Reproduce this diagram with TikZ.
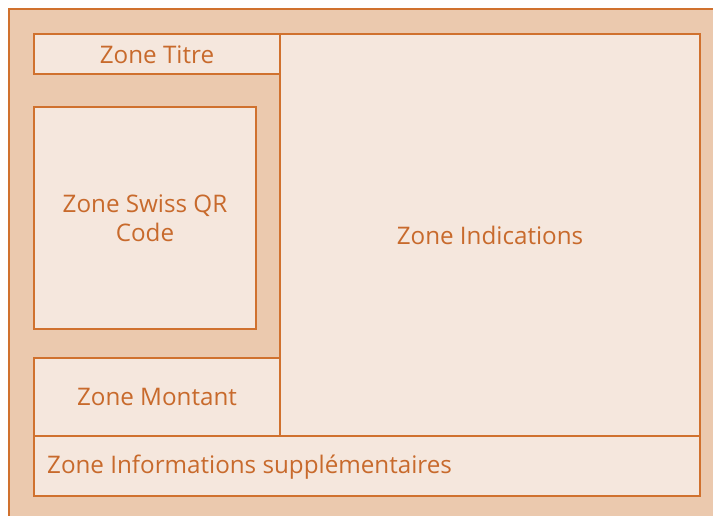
\documentclass[tikz,border=0pt]{standalone}
\usepackage{fontspec}
\setmainfont{Open Sans}
\definecolor{outerfill}{HTML}{EBC9AE}
\definecolor{innerfill}{HTML}{F5E7DD}
\definecolor{edge}{HTML}{D0712E}
\definecolor{txt}{HTML}{C86A2C}
\tikzset{
  zone/.style={draw=edge, fill=innerfill, line width=1.6pt},
  lbl/.style={text=txt, font=\fontsize{24.2}{29}\selectfont, inner sep=0pt, align=center}
}
\begin{document}
\begin{tikzpicture}[x=1pt,y=-1pt]
\useasboundingbox (0,0) rectangle (713,515);
\fill[white] (0,0) rectangle (713,515);
\draw[draw=edge, fill=outerfill, line width=1.6pt] (9,9) rectangle (720,520);
\draw[zone] (34,34) rectangle (280,74);
\draw[zone] (280,34) rectangle (700,436);
\draw[zone] (34,107) rectangle (256,329);
\draw[zone] (34,358) rectangle (280,436);
\draw[zone] (34,436) rectangle (700,496);
\node[lbl] (titre) at (157,55) {Zone Titre};
\node[lbl] (qr) at (145,218) {Zone Swiss QR\\Code};
\node[lbl] (ind) at (490,235) {Zone Indications};
\node[lbl] (mont) at (157,397) {Zone Montant};
\node[lbl, anchor=west] (info) at (47,467) {Zone Informations supplémentaires};
\end{tikzpicture}
\end{document}
